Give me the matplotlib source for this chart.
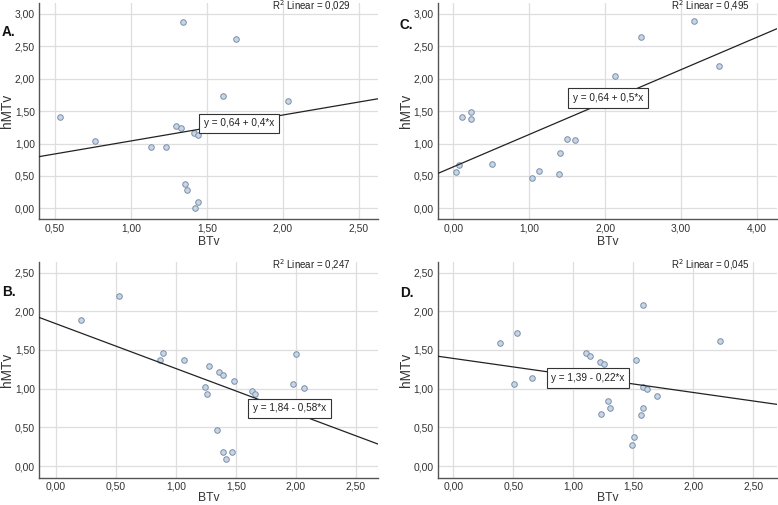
import matplotlib
matplotlib.use("Agg")
import matplotlib.pyplot as plt
import numpy as np

plt.rcParams['font.family'] = ['Liberation Sans', 'DejaVu Sans']

# Panel A
a_x = [0.535, 0.766, 1.129, 1.233, 1.298, 1.327, 1.340, 1.413, 1.444, 1.353, 1.371, 1.439, 1.424, 1.609, 1.690, 2.033]
a_y = [1.415, 1.040, 0.947, 0.947, 1.266, 1.245, 2.877, 1.163, 1.132, 0.381, 0.283, 0.103, 0.005, 1.734, 2.609, 1.662]
# Panel B
b_x = [0.208, 0.524, 0.871, 0.893, 1.071, 1.240, 1.257, 1.276, 1.362, 1.396, 1.484, 1.340, 1.396, 1.415, 1.465, 1.632, 1.662, 1.978, 2.003, 2.067]
b_y = [1.893, 2.194, 1.368, 1.459, 1.373, 1.024, 0.929, 1.287, 1.209, 1.175, 1.097, 0.460, 0.181, 0.086, 0.181, 0.964, 0.934, 1.054, 1.441, 1.011]
# Panel C
c_x = [0.035, 0.075, 0.114, 0.237, 0.233, 0.505, 1.037, 1.125, 1.398, 1.402, 1.495, 1.609, 2.136, 2.479, 3.174, 3.503]
c_y = [0.566, 0.664, 1.405, 1.487, 1.379, 0.679, 0.473, 0.571, 0.535, 0.849, 1.076, 1.050, 2.048, 2.640, 2.887, 2.203]
# Panel D
d_x = [0.392, 0.533, 0.503, 0.658, 1.103, 1.136, 1.225, 1.258, 1.286, 1.231, 1.303, 1.525, 1.578, 1.583, 1.611, 1.581, 1.561, 1.697, 1.508, 1.492, 2.225]
d_y = [1.588, 1.721, 1.059, 1.136, 1.454, 1.424, 1.343, 1.317, 0.839, 0.671, 0.744, 1.364, 2.083, 1.015, 0.990, 0.744, 0.654, 0.904, 0.370, 0.275, 1.614]

W, H = 778, 505

panels = [
    dict(label="A.", x=a_x, y=a_y, b0=0.64, b1=0.4, eq="y = 0,64 + 0,4*x", r2="0,029",
         xlim=(0.394, 2.63), ylim=(-0.165, 3.165), xticks=[0.5, 1.0, 1.5, 2.0, 2.5],
         yticks=[0, 0.5, 1, 1.5, 2, 2.5, 3], eqpos=(1.71, 1.31),
         px=(39, 3.3, 378.3, 219), lab=(2, 31.7), xl=22.7),
    dict(label="C.", x=c_x, y=c_y, b0=0.64, b1=0.5, eq="y = 0,64 + 0,5*x", r2="0,495",
         xlim=(-0.206, 4.27), ylim=(-0.165, 3.165), xticks=[0, 1, 2, 3, 4],
         yticks=[0, 0.5, 1, 1.5, 2, 2.5, 3], eqpos=(2.044, 1.70),
         px=(437.7, 3.3, 777.3, 219), lab=(400, 25), xl=22.7),
    dict(label="B.", x=b_x, y=b_y, b0=1.84, b1=-0.58, eq="y = 1,84 - 0,58*x", r2="0,247",
         xlim=(-0.139, 2.686), ylim=(-0.151, 2.64), xticks=[0, 0.5, 1.0, 1.5, 2.0, 2.5],
         yticks=[0, 0.5, 1, 1.5, 2, 2.5], eqpos=(1.948, 0.744),
         px=(39, 261.7, 378.3, 477.7), lab=(2, 291.7), xl=20.6),
    dict(label="D.", x=d_x, y=d_y, b0=1.39, b1=-0.22, eq="y = 1,39 - 0,22*x", r2="0,045",
         xlim=(-0.131, 2.70), ylim=(-0.151, 2.64), xticks=[0, 0.5, 1.0, 1.5, 2.0, 2.5],
         yticks=[0, 0.5, 1, 1.5, 2, 2.5], eqpos=(1.122, 1.136),
         px=(437.7, 261.7, 777.3, 477.7), lab=(400, 293), xl=20.6),
]

fig = plt.figure(figsize=(W / 100, H / 100), dpi=100)
fig.patch.set_facecolor('white')

fmt = lambda v: f"{v:.2f}".replace('.', ',')

for p in panels:
    x0, y0, x1, y1 = p['px']
    ax = fig.add_axes([x0 / W, 1 - y1 / H, (x1 - x0) / W, (y1 - y0) / H])
    hpx = y1 - y0
    wpx = x1 - x0
    ax.set_xlim(*p['xlim'])
    ax.set_ylim(*p['ylim'])
    ax.set_xticks(p['xticks'])
    ax.set_yticks(p['yticks'])
    ax.set_xticklabels([fmt(v) for v in p['xticks']])
    ax.set_yticklabels([fmt(v) for v in p['yticks']])
    ax.grid(True, color='#dedede', linewidth=0.9)
    ax.set_axisbelow(True)
    for s in ['top', 'right']:
        ax.spines[s].set_visible(False)
    for s in ['left', 'bottom']:
        ax.spines[s].set_color('#555555')
        ax.spines[s].set_linewidth(1.0)
    ax.tick_params(length=0, labelsize=7.4, colors='#333333', pad=3)
    ax.set_xlabel('BTv', fontsize=8.7, color='#333333')
    ax.xaxis.label.set_va('center')
    ax.xaxis.set_label_coords(0.5, -p['xl'] / hpx)
    ax.set_ylabel('hMTv', fontsize=9.8, color='#333333')
    ax.yaxis.label.set_va('center')
    ax.yaxis.set_label_coords(-31.5 / wpx, 0.5)
    ax.scatter(p['x'], p['y'], s=16, facecolor='#c6d6e8', edgecolor='#7b8ea6',
               linewidth=0.7, zorder=3)
    xs = np.array(p['xlim'])
    ax.plot(xs, p['b0'] + p['b1'] * xs, color='#222222', linewidth=0.9, zorder=4)
    ax.text(p['eqpos'][0], p['eqpos'][1], p['eq'], ha='center', va='center',
            fontsize=7.2, color='#222222', zorder=5,
            bbox=dict(boxstyle='square,pad=0.48', facecolor='white', edgecolor='#333333', linewidth=0.8))
    ax.text(1 - 28 / wpx, 1 - 2.7 / hpx, f"R$^2$ Linear = {p['r2']}", transform=ax.transAxes,
            ha='right', va='center', fontsize=7, color='#222222')
    lx, ly = p['lab']
    fig.text(lx / W, 1 - ly / H, p['label'], fontsize=9.8, fontweight='bold',
             ha='left', va='center', color='#111111')

fig.savefig('out.png', dpi=100)
